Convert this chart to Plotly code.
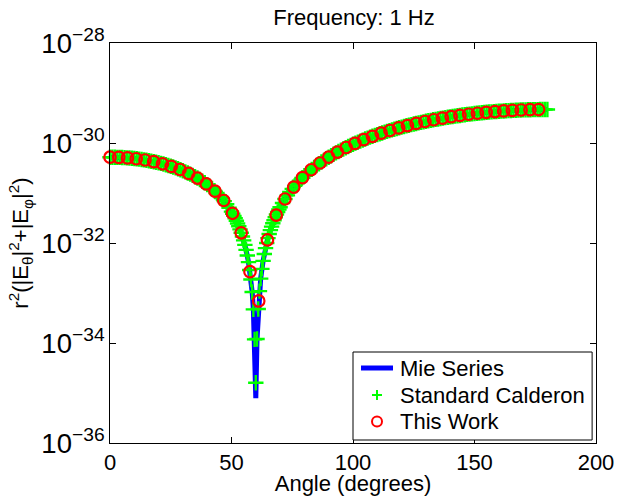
import plotly.graph_objects as go

# ---------------- data ----------------
# Mie series (blue line)
mie_angle = [0, 5, 10, 15, 20, 25, 30, 35, 40, 45, 48, 50, 52, 54, 55, 56, 57, 58, 58.5, 59, 59.5,
             60, 60.5, 61, 61.5, 62, 63, 64, 65, 66, 68, 70, 72, 75, 80, 85, 90, 95, 100, 105, 110,
             115, 120, 125, 130, 135, 140, 145, 150, 155, 160, 165, 170, 175, 180]
mie_value = [5.20e-31, 5.12e-31, 4.89e-31, 4.52e-31, 4.02e-31, 3.43e-31, 2.79e-31, 2.12e-31, 1.47e-31,
             8.92e-32, 5.95e-32, 4.24e-32, 2.78e-32, 1.60e-32, 1.13e-32, 7.29e-33, 4.15e-33, 1.86e-33,
             1.05e-33, 4.71e-34, 1.18e-34, 7.9e-36, 1.20e-34, 4.80e-34, 1.09e-33, 1.94e-33, 4.40e-33,
             7.90e-33, 1.25e-32, 1.81e-32, 3.27e-32, 5.19e-32, 7.59e-32, 1.21e-31, 2.22e-31, 3.55e-31,
             5.20e-31, 7.17e-31, 9.44e-31, 1.20e-30, 1.47e-30, 1.77e-30, 2.08e-30, 2.40e-30, 2.72e-30,
             3.03e-30, 3.33e-30, 3.62e-30, 3.88e-30, 4.11e-30, 4.31e-30, 4.47e-30, 4.59e-30, 4.66e-30,
             4.68e-30]

# Standard Calderon (green +)
calderon_angle = (list(range(0, 50))
                  + [50, 50.5, 51, 51.5, 52, 52.5, 53, 53.5, 54, 54.5, 55, 55.5, 56, 56.5, 57, 57.5,
                     58, 58.5, 59, 59.5, 60, 60.5, 61, 61.5, 62, 62.5, 63, 63.5, 64, 64.5, 65, 65.5,
                     66, 66.5, 67, 67.5, 68, 68.5, 69, 69.5, 70]
                  + list(range(71, 181)))
calderon_value = [
    5.20e-31, 5.20e-31, 5.19e-31, 5.17e-31, 5.15e-31, 5.12e-31, 5.09e-31, 5.05e-31, 5.00e-31, 4.95e-31,
    4.89e-31, 4.83e-31, 4.76e-31, 4.68e-31, 4.60e-31, 4.52e-31, 4.43e-31, 4.33e-31, 4.23e-31, 4.13e-31,
    4.02e-31, 3.91e-31, 3.80e-31, 3.68e-31, 3.56e-31, 3.43e-31, 3.31e-31, 3.18e-31, 3.05e-31, 2.92e-31,
    2.79e-31, 2.65e-31, 2.52e-31, 2.39e-31, 2.25e-31, 2.12e-31, 1.99e-31, 1.86e-31, 1.73e-31, 1.60e-31,
    1.47e-31, 1.35e-31, 1.23e-31, 1.11e-31, 1.00e-31, 8.92e-32, 7.88e-32, 6.89e-32, 5.95e-32, 5.07e-32,
    4.24e-32, 3.85e-32, 3.48e-32, 3.12e-32, 2.78e-32, 2.46e-32, 2.16e-32, 1.87e-32, 1.60e-32, 1.35e-32,
    1.13e-32, 9.17e-33, 7.29e-33, 5.61e-33, 4.15e-33, 2.89e-33, 1.86e-33, 1.05e-33, 4.71e-34, 1.18e-34,
    1.6e-35, 1.20e-34, 4.80e-34, 1.09e-33, 1.94e-33, 3.04e-33, 4.40e-33, 6.02e-33, 7.90e-33, 1.00e-32,
    1.25e-32, 1.51e-32, 1.81e-32, 2.13e-32, 2.48e-32, 2.86e-32, 3.27e-32, 3.71e-32, 4.17e-32, 4.67e-32,
    5.19e-32,
    6.33e-32, 7.59e-32, 8.97e-32, 1.05e-31, 1.21e-31, 1.39e-31, 1.57e-31, 1.77e-31, 1.99e-31, 2.22e-31,
    2.46e-31, 2.71e-31, 2.97e-31, 3.25e-31, 3.55e-31, 3.85e-31, 4.17e-31, 4.50e-31, 4.84e-31, 5.20e-31,
    5.57e-31, 5.95e-31, 6.35e-31, 6.75e-31, 7.17e-31, 7.60e-31, 8.04e-31, 8.50e-31, 8.96e-31, 9.44e-31,
    9.93e-31, 1.04e-30, 1.09e-30, 1.14e-30, 1.20e-30, 1.25e-30, 1.31e-30, 1.36e-30, 1.42e-30, 1.47e-30,
    1.53e-30, 1.59e-30, 1.65e-30, 1.71e-30, 1.77e-30, 1.83e-30, 1.89e-30, 1.95e-30, 2.02e-30, 2.08e-30,
    2.14e-30, 2.21e-30, 2.27e-30, 2.33e-30, 2.40e-30, 2.46e-30, 2.53e-30, 2.59e-30, 2.65e-30, 2.72e-30,
    2.78e-30, 2.84e-30, 2.91e-30, 2.97e-30, 3.03e-30, 3.09e-30, 3.15e-30, 3.21e-30, 3.27e-30, 3.33e-30,
    3.39e-30, 3.45e-30, 3.51e-30, 3.56e-30, 3.62e-30, 3.67e-30, 3.73e-30, 3.78e-30, 3.83e-30, 3.88e-30,
    3.93e-30, 3.98e-30, 4.02e-30, 4.07e-30, 4.11e-30, 4.16e-30, 4.20e-30, 4.24e-30, 4.27e-30, 4.31e-30,
    4.35e-30, 4.38e-30, 4.41e-30, 4.44e-30, 4.47e-30, 4.50e-30, 4.52e-30, 4.54e-30, 4.57e-30, 4.59e-30,
    4.60e-30, 4.62e-30, 4.63e-30, 4.65e-30, 4.66e-30, 4.66e-30, 4.67e-30, 4.68e-30, 4.68e-30, 4.68e-30]

# This Work (red circles)
work_angle = [0, 3.6, 7.2, 10.8, 14.4, 18.0, 21.6, 25.2, 28.8, 32.4, 36.0, 39.6, 43.2, 46.8, 50.4,
              54.0, 57.6, 61.2, 64.8, 68.4, 72.0, 75.6, 79.2, 82.8, 86.4, 90.0, 93.6, 97.2, 100.8,
              104.4, 108.0, 111.6, 115.2, 118.8, 122.4, 126.0, 129.6, 133.2, 136.8, 140.4, 144.0,
              147.6, 151.2, 154.8, 158.4, 162.0, 165.6, 169.2, 172.8, 176.4]
work_value = [5.20e-31, 5.16e-31, 5.04e-31, 4.84e-31, 4.57e-31, 4.23e-31, 3.84e-31, 3.41e-31, 2.95e-31,
              2.47e-31, 1.99e-31, 1.52e-31, 1.09e-31, 7.08e-32, 3.93e-32, 1.60e-32, 2.67e-33, 6.93e-34,
              1.15e-32, 3.62e-32, 7.59e-32, 1.31e-31, 2.03e-31, 2.92e-31, 3.98e-31, 5.20e-31, 6.59e-31,
              8.13e-31, 9.83e-31, 1.17e-30, 1.36e-30, 1.57e-30, 1.78e-30, 2.01e-30, 2.23e-30, 2.46e-30,
              2.69e-30, 2.92e-30, 3.14e-30, 3.36e-30, 3.56e-30, 3.76e-30, 3.94e-30, 4.11e-30, 4.25e-30,
              4.38e-30, 4.49e-30, 4.57e-30, 4.63e-30, 4.67e-30]

series_names = ["Mie Series", "Standard Calderon", "This Work"]
x_ticks = [0, 50, 100, 150, 200]
title_text = "Frequency: 1 Hz"
x_label = "Angle (degrees)"
y_label = "r<sup>2</sup>(|E<sub>θ</sub>|<sup>2</sup>+|E<sub>φ</sub>|<sup>2</sup>)"

FONT = "Liberation Sans, Arial, Helvetica, sans-serif"
BLUE, GREEN, RED = "#0000FF", "#00FF00", "#FF0000"

fig = go.Figure()
fig.add_trace(go.Scatter(
    x=mie_angle, y=mie_value, mode="lines", name=series_names[0],
    line=dict(color=BLUE, width=5), showlegend=False))
fig.add_trace(go.Scatter(
    x=calderon_angle, y=calderon_value, mode="markers", name=series_names[1],
    marker=dict(symbol="cross-thin", size=11, line=dict(color=GREEN, width=2.4), color=GREEN),
    cliponaxis=False, showlegend=False))
fig.add_trace(go.Scatter(
    x=work_angle, y=work_value, mode="markers", name=series_names[2],
    marker=dict(symbol="circle-open", size=11.5, line=dict(color=RED, width=2.2), color=RED),
    cliponaxis=False, showlegend=False))

axis_common = dict(
    showline=True, linecolor="black", linewidth=1, mirror="ticks",
    ticks="inside", ticklen=6, tickwidth=1, tickcolor="black",
    showgrid=False, zeroline=False, automargin=False,
    tickfont=dict(family=FONT, size=22, color="black"),
)

fig.update_xaxes(
    range=[0, 200], tickvals=x_ticks, ticktext=[str(v) for v in x_ticks],
    title=dict(text=x_label, font=dict(family=FONT, size=22, color="black"), standoff=0),
    **axis_common)
fig.update_yaxes(
    type="log", range=[-36, -28], dtick=2, exponentformat="power", showexponent="all",
    title=dict(text=y_label, font=dict(family=FONT, size=22, color="black"), standoff=6),
    **axis_common)

# ---- legend box drawn by hand (MATLAB-like compact layout) ----
shapes = [dict(type="rect", xref="paper", yref="paper", x0=0.5, x1=0.992, y0=0.0075, y1=0.2275,
               line=dict(color="black", width=1), fillcolor="white", layer="above")]
row_y = [0.1875, 0.12, 0.05375]
sym_x = 0.5494
shapes.append(dict(type="line", xref="paper", yref="paper", x0=0.5165, x1=0.5823,
                   y0=row_y[0], y1=row_y[0], line=dict(color=BLUE, width=5), layer="above"))
# plus symbol
shapes.append(dict(type="line", xref="paper", yref="paper", xsizemode="pixel", ysizemode="pixel",
                   xanchor=sym_x, yanchor=row_y[1], x0=-5, x1=5, y0=0, y1=0,
                   line=dict(color=GREEN, width=2), layer="above"))
shapes.append(dict(type="line", xref="paper", yref="paper", xsizemode="pixel", ysizemode="pixel",
                   xanchor=sym_x, yanchor=row_y[1], x0=0, x1=0, y0=-5, y1=5,
                   line=dict(color=GREEN, width=2), layer="above"))
# circle symbol
shapes.append(dict(type="circle", xref="paper", yref="paper", xsizemode="pixel", ysizemode="pixel",
                   xanchor=sym_x, yanchor=row_y[2], x0=-5, x1=5, y0=-5, y1=5,
                   line=dict(color=RED, width=2), layer="above"))

annotations = [dict(text=nm, xref="paper", yref="paper", x=0.5926, y=yy, xanchor="left",
                    yanchor="middle", showarrow=False,
                    font=dict(family=FONT, size=22, color="black"))
               for nm, yy in zip(series_names, row_y)]

fig.update_layout(
    width=621, height=496,
    margin=dict(l=110, r=25, t=43, b=53),
    paper_bgcolor="white", plot_bgcolor="white",
    font=dict(family=FONT, size=22, color="black"),
    title=dict(text=title_text, x=0.57, xanchor="center", y=0.98, yanchor="top",
               font=dict(family=FONT, size=22, color="black")),
    shapes=shapes, annotations=annotations,
    showlegend=False,
)

fig.write_html("out.html")
